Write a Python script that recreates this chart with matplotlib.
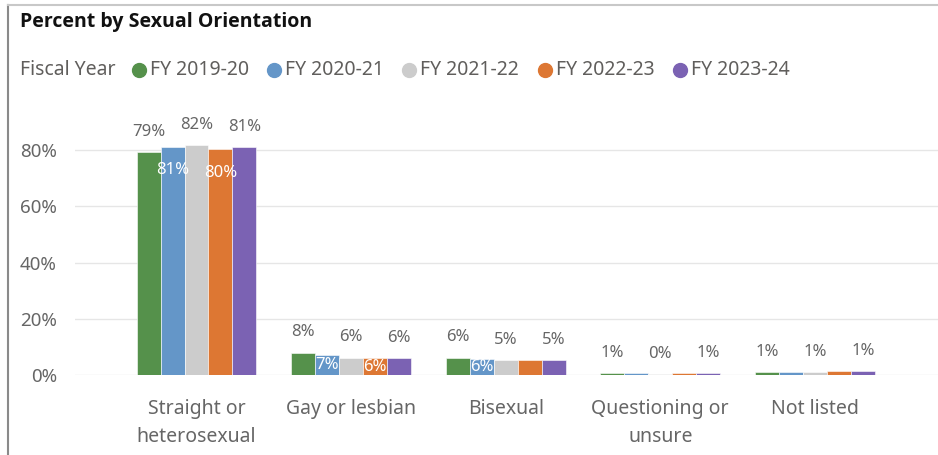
import matplotlib
matplotlib.use('Agg')
import matplotlib.pyplot as plt
from matplotlib.lines import Line2D
import numpy as np

plt.rcParams['font.family'] = ['Noto Sans', 'DejaVu Sans']

# data
categories = ['Straight or\nheterosexual', 'Gay or lesbian', 'Bisexual',
              'Questioning or\nunsure', 'Not listed']
years = ['FY 2019-20', 'FY 2020-21', 'FY 2021-22', 'FY 2022-23', 'FY 2023-24']
fy_2019 = [79.3, 8.0, 6.2, 0.7, 1.1]
fy_2020 = [81.2, 7.0, 5.8, 0.6, 1.1]
fy_2021 = [81.8, 6.2, 5.4, 0.4, 1.0]
fy_2022 = [80.2, 6.0, 5.3, 0.6, 1.3]
fy_2023 = [81.0, 6.1, 5.2, 0.7, 1.3]
series = [fy_2019, fy_2020, fy_2021, fy_2022, fy_2023]
colors = ['#55914B', '#6496C8', '#CCCCCC', '#DD7733', '#7B62B3']
# which bars get an inside (white) label, per series
inside_labels = {1: [0, 1, 2], 3: [0, 1]}

W, H = 938, 455
fig = plt.figure(figsize=(W / 100, H / 100), dpi=100)
fig.patch.set_facecolor('white')

ax_l, ax_r = 75, 938
ax_b, ax_t = 375, 130
ax = fig.add_axes([ax_l / W, 1 - ax_b / H, (ax_r - ax_l) / W, (ax_b - ax_t) / H])

x = np.arange(len(categories))
bw = 0.155
grey = '#666666'
lbl_size = 12

for i, (vals, c) in enumerate(zip(series, colors)):
    pos = x + (i - 2) * bw
    ax.bar(pos, vals, width=bw, color=c, edgecolor='white', linewidth=0.4, zorder=3)
    for j, v in enumerate(vals):
        if i in (0, 2, 4):
            ax.annotate(f'{round(v):.0f}%', (pos[j], v), xytext=(0, 14.5),
                        textcoords='offset points', ha='center', va='center',
                        fontsize=lbl_size, color=grey, zorder=4)
        elif j in inside_labels.get(i, []):
            if v > 20:
                ax.annotate(f'{round(v):.0f}%', (pos[j], v), xytext=(0, -17),
                            textcoords='offset points', ha='center', va='center',
                            fontsize=lbl_size, color='white', fontweight='bold', zorder=4)
            else:
                ax.text(pos[j], v / 2, f'{round(v):.0f}%', ha='center', va='center',
                        fontsize=lbl_size, color='white', fontweight='bold', zorder=4)

# x range so group spacing ~155px starting at 196px
px_per = 154.6
ax.set_xlim((ax_l - 196.5) / px_per, (ax_r - 196.5) / px_per)
ax.set_ylim(0, (ax_b - ax_t) / 2.8125)
ax.set_yticks([0, 20, 40, 60, 80])
ax.set_yticklabels(['0%', '20%', '40%', '60%', '80%'])
ax.set_xticks(x)
ax.set_xticklabels(categories, linespacing=1.5)
ax.tick_params(axis='y', length=0, pad=13, labelsize=13.5, labelcolor=grey)
ax.tick_params(axis='x', length=0, pad=17.5, labelsize=14, labelcolor=grey)
ax.grid(axis='y', color='#E6E6E6', linewidth=1, zorder=0)
for s in ax.spines.values():
    s.set_visible(False)

# title and legend
fig.text(20 / W, 1 - 22 / H, 'Percent by Sexual Orientation', fontsize=14,
         fontweight='bold', family='Open Sans', color='#111111', ha='left', va='center')
leg_y = 1 - 70 / H
fig.text(20 / W, leg_y, 'Fiscal Year', fontsize=14, color='#605E5C',
         ha='left', va='center')
dot_x = [139, 274, 409, 545, 680]
for dx, lab, c in zip(dot_x, years, colors):
    fig.add_artist(Line2D([dx / W], [leg_y], marker='o', markersize=10,
                          color=c, linestyle='none'))
    fig.text((dx + 11) / W, leg_y, lab, fontsize=14, color='#605E5C',
             ha='left', va='center')

# frame lines
fig.add_artist(Line2D([8 / W, 8 / W], [0, 1 - 5 / H], color='#8A8A8A', linewidth=1.5))
fig.add_artist(Line2D([8 / W, 1], [1 - 5 / H, 1 - 5 / H], color='#C8C8C8', linewidth=1.5))

fig.savefig('out.png', dpi=100, facecolor='white')
